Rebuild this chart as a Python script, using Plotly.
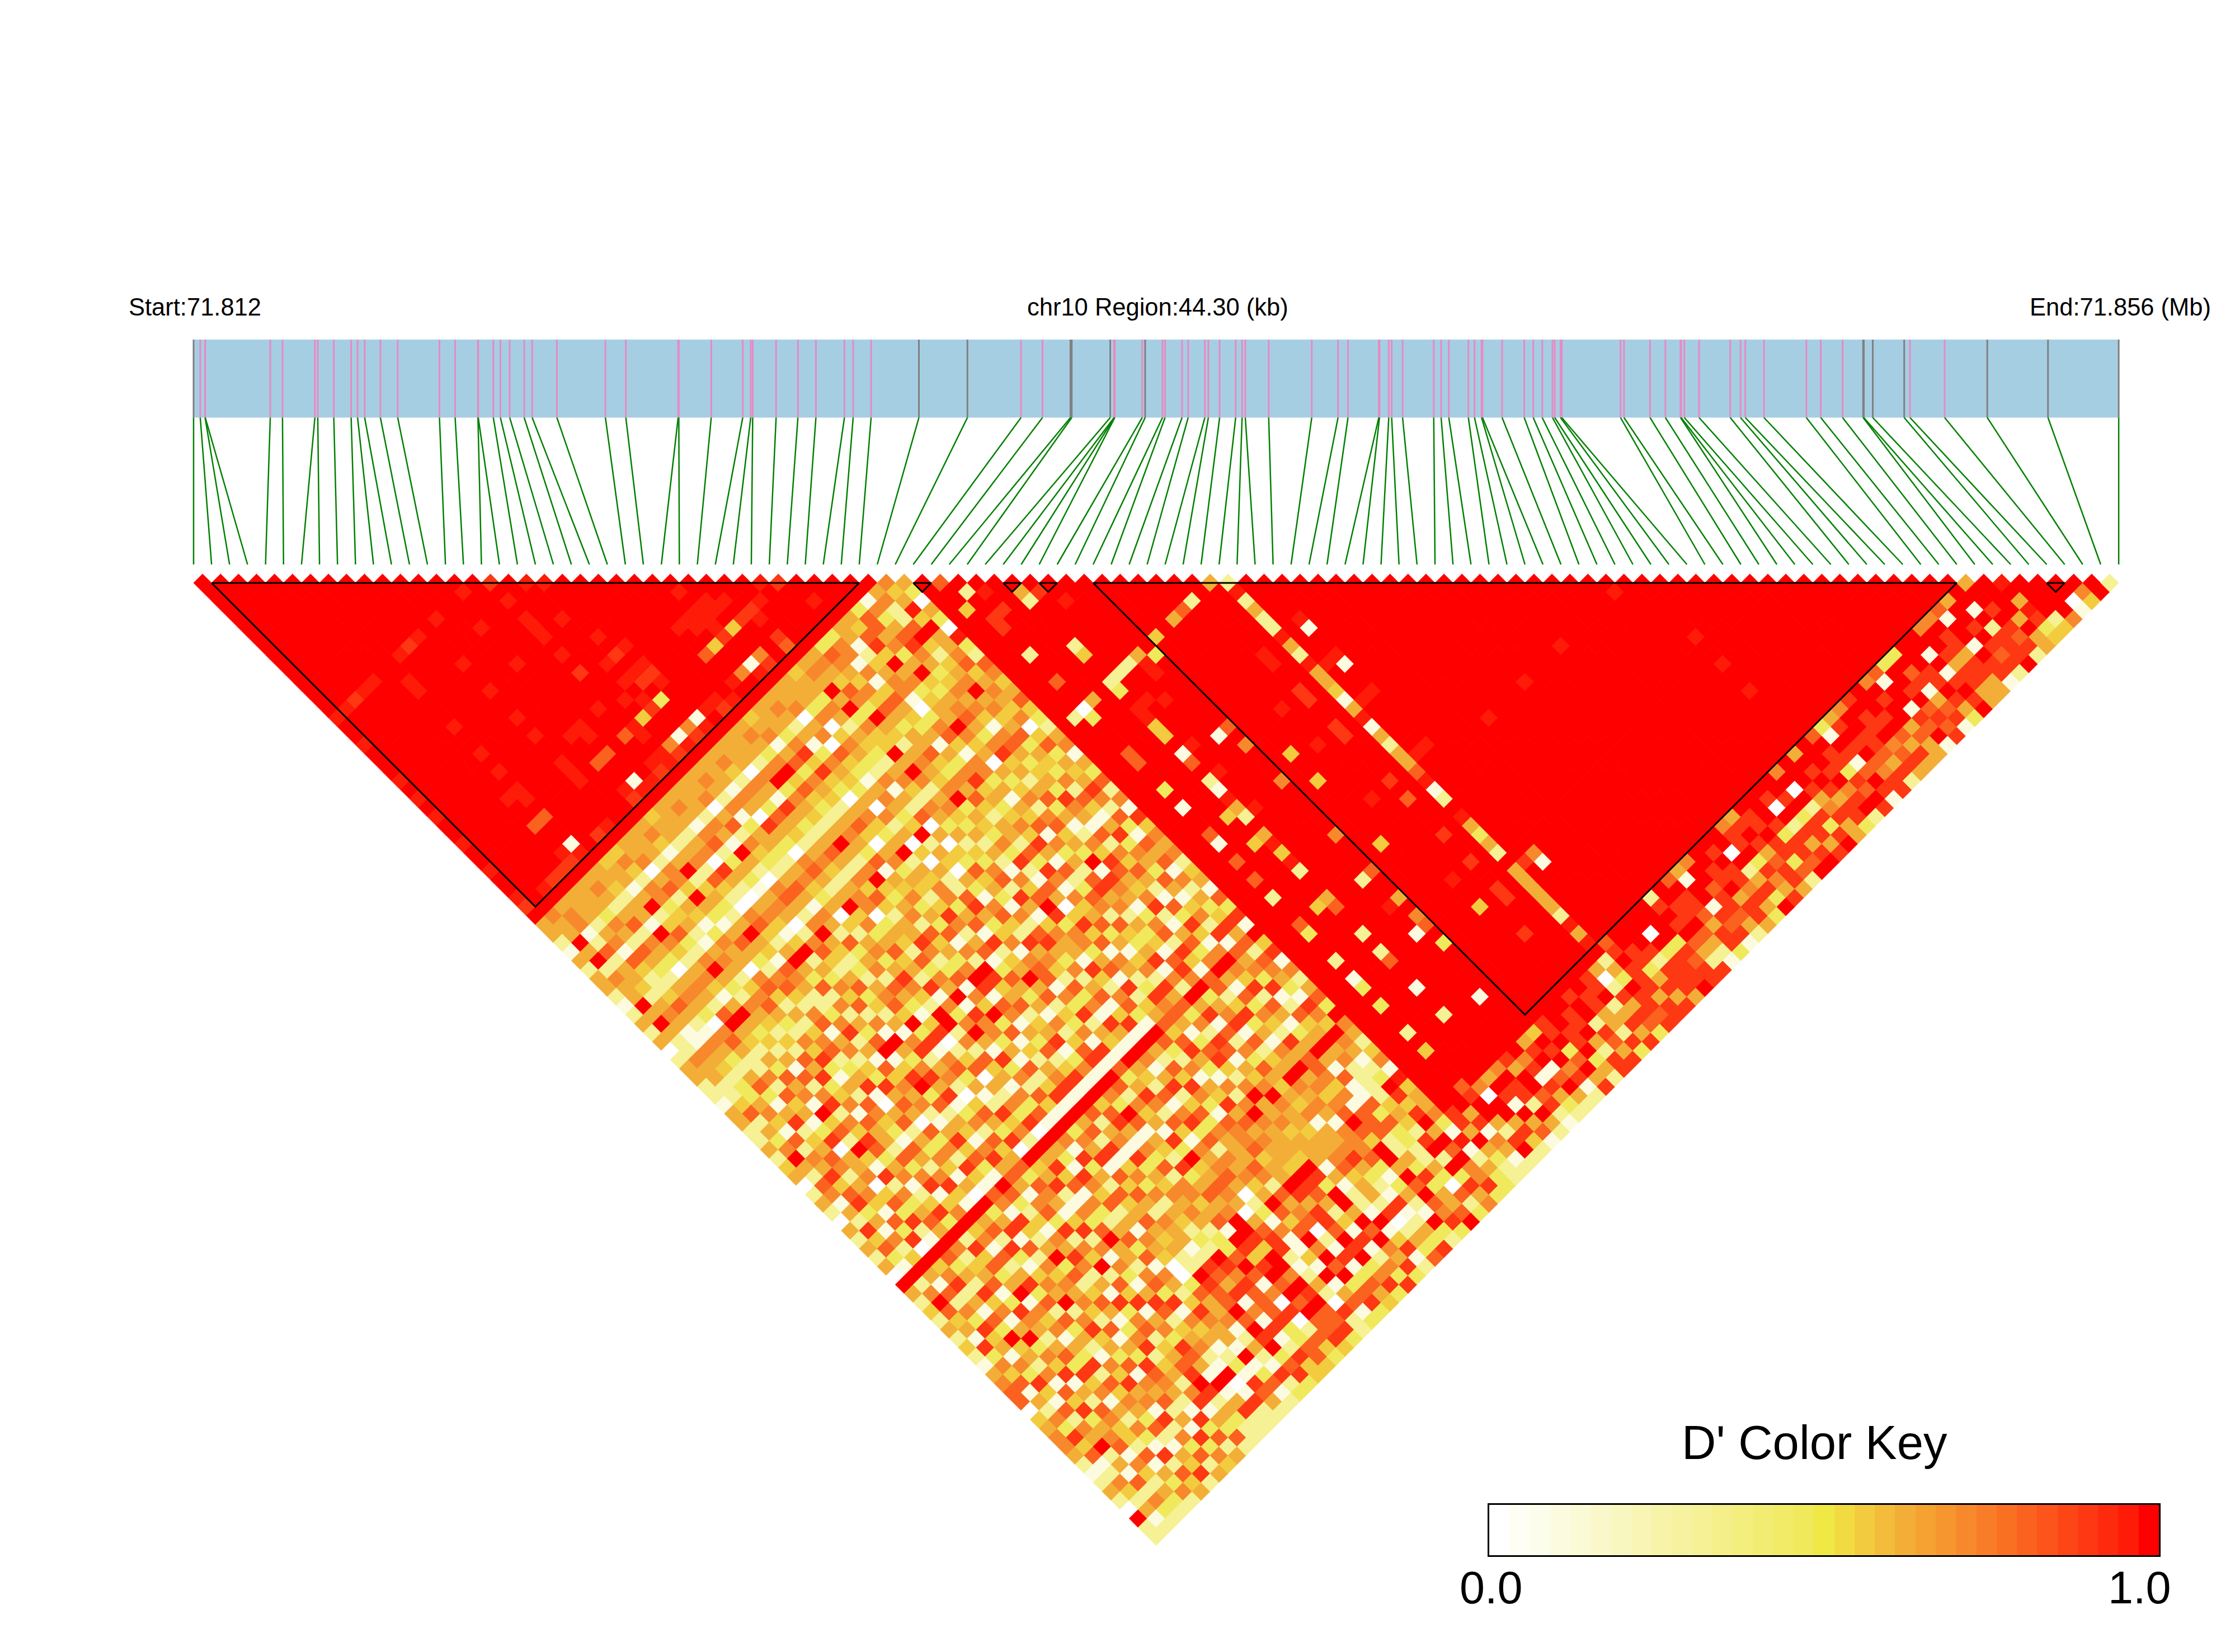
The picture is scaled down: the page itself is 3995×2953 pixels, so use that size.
import plotly.graph_objects as go

# D' levels used in the rows below ('x' is the almost-red step of the key)
LEVELS = {'0': 0.0, '1': 0.094, '2': 0.3125, '3': 0.469, '4': 0.5625, '5': 0.625,
          '6': 0.719, '7': 0.8125, '8': 0.906, 'x': 0.969, '9': 1.0}

KEY_COLORS = ['#FFFFFF', '#FEFEF5', '#FDFDEB', '#FCFBE0', '#FBFAD6', '#FAF8CB', '#F9F7C0', '#F8F5B5',
              '#F7F4AA', '#F6F29F', '#F5F194', '#F4EF89', '#F3EE7E', '#F2EC73', '#F1EB68', '#F0E95C',
              '#EFE845', '#F2DB40', '#F2CC3E', '#F3BC3A', '#F3AE38', '#F5A233', '#F6962F', '#F7892C',
              '#F97D28', '#FA7023', '#FB611F', '#FC541A', '#FC4616', '#FD3812', '#FE2A0D', '#FE1B08',
              '#FF0000']

# SNP positions along the region, kb from the start
SNP_KB = [0.000, 0.154, 0.265, 0.269, 1.765, 2.046, 2.792, 2.858, 3.227, 3.626, 3.774, 3.937, 4.299, 4.698,
          5.658, 6.019, 6.544, 6.551, 6.898, 7.061, 7.275, 7.608, 7.792, 8.361, 9.477, 9.947, 11.151, 11.166,
          11.912, 12.637, 12.821, 12.866, 13.405, 13.907, 14.321, 14.977, 15.178, 15.591, 16.691, 17.807,
          19.041, 19.535, 20.178, 20.208, 21.094, 21.182, 21.190, 21.198, 21.830, 21.897, 22.296, 22.355,
          22.746, 22.887, 23.271, 23.352, 23.611, 23.980, 24.128, 24.202, 24.740, 25.731, 26.336, 26.565,
          27.274, 27.290, 27.503, 27.570, 27.821, 28.538, 28.708, 28.885, 29.335, 29.476, 29.638, 29.660,
          30.111, 30.620, 30.828, 31.034, 31.271, 31.322, 31.455, 31.484, 32.836, 32.916, 33.515, 33.869,
          34.216, 34.231, 34.305, 34.644, 35.361, 35.598, 35.708, 36.137, 37.112, 37.444, 37.946, 38.419,
          38.434, 38.641, 39.364, 39.497, 40.295, 41.276, 42.673, 44.300]
GRAY_SNPS = [0, 38, 39, 42, 43, 44, 49, 99, 100, 101, 102, 105, 106, 107]
REGION_KB = 44.30

# haplotype blocks, first and last SNP
BLOCKS = [(1, 37), (40, 41), (45, 46), (47, 48), (50, 98), (103, 104)]

# one string per SNP i, cells j = i+1 .. 107; spaces break at j = 10, 20, ...
DPRIME_ROWS = [
    "999999999 999999x99x 999x9x9x99 x99x99x895 5215255212 5250255221 5522524502 5205252509 5242524215 6770456652 12520922",
    "99999999 999999x999 9999999999 9999999996 5595926559 5952265522 4725369527 6152847319 2697451836 4715263847 12642512",
    "9999999 9999998999 9999999999 9999999x95 6612725542 5651165423 3564172658 4783516249 5172638451 6384172659 25172632",
    "999999 999999x999 9999999999 9999999895 5525617422 4752165325 7315824576 2564173809 4682517394 5261748356 71642532",
    "99999 999999x999 9999999999 9999999895 5536527532 5653067522 6274513805 5604738219 7352846159 3648152764 42715362",
    "9999 9999999999 9999999999 x99799x895 6525726530 5652795425 3756194729 4182635759 6245713865 2573846152 63182745",
    "999 99999999xx 999x99x9x9 xx97991x95 5425519642 5641595342 5172682648 7356124839 2847359164 6153827465 37215482",
    "99 999999x999 9999999999 9999999994 5515924732 6953265424 2758346175 5273681469 4617258372 7352164856 18263725",
    "9 9999998999 9999999999 9999999894 6426634521 5652467532 6483152764 3175268419 5728314659 2684537165 72518364",
    "999999x999 9999999999 9999999x95 5605725413 6550674252 4672358105 7253641509 3581726465 6427153876 52183725",
    "999999999 x99x99x9x9 9xxx999995 5526649531 5753267426 7156243857 5073628417 6184259372 4751368245 26815372",
    "9999x999 9999999999 9999999995 6415924532 5954176522 3682517465 6215847319 7324165862 5183672457 89825322",
    "9999999 9999999999 x99799x894 5525627420 6742595372 6253791489 3725416857 5167382649 2748156387 51915822",
    "99999x 999x999999 xx97991x95 5525608520 5641492536 4726195368 5813627457 3765148261 6315872456 21901822",
    "9x999 9999999999 9999999x95 6516723531 5650267425 7342516825 6204753809 4582163795 5267381645 12318752",
    "9999 9999999999 x99799x895 5526519520 6752695423 2567493816 7351284629 5847163257 3716524865 51913712",
    "89x 9xxx9x9899 999xx9xx95 5605726432 5751652735 6275314802 4705263809 5318647251 6540037556 12521823",
    "99 9999999999 9x94996895 6526135532 5643504256 3586429926 2745163719 6183527457 5452298779 79893783",
    "x 999x9999x9 x9x8991x95 5516508530 6752594635 7452816369 5183627419 3658174752 6551287581 61812844",
    "x99999x989 x893996895 6426537542 5642566035 4273659186 6351724819 5728146362 5423298687 77833774",
    "9999999x9 x8x9991x95 5506518532 5752647425 5862371649 3714256819 7256183546 5652337971 60802743",
    "99999999 999999x995 5526936542 5952694356 2745369817 6153724819 4785163726 6457198489 79797784",
    "9999999 999999x895 6536947432 5653715463 5371629845 7245813619 6397154283 5756998499 69897783",
    "999999 9999999x94 5615736542 5740563542 4862571375 3516247819 7264518394 5765057882 12520822",
    "99999 x99799x995 5536848430 5643592546 6357182459 5724361817 3586274165 6750231611 41915713",
    "9999 xx94996995 6525136543 5062504052 2785346167 7163825419 5427168372 6564597479 69793783",
    "9x9 xxx8991x95 5605607431 5653492540 5316742856 4273618519 6158247365 5576275670 21813754",
    "99 xx94996895 5536046532 6152705043 7453162785 3625714819 5274863176 6745598588 79893683",
    "9 9x98999994 5536525432 5642653524 3672851465 5184267319 7326154857 5655498752 41812638",
    "9998x98795 6595936449 5962564352 5216479836 6357182457 4785316269 6555498399 59796583",
    "99x999995 6547639542 5654693543 6382175048 4716523867 5137842695 5645551512 21914812",
    "x9999993 7654647535 5743657425 5273861645 7351462857 3628715469 6554556745 52802537",
    "8999993 6616147543 5153684534 6485172376 2743581629 5817263754 5461556853 21812538",
    "99x995 5124566103 6741663515 4716352785 6253417869 3568172459 6565166673 13521932",
    "99995 4784956345 5964505346 2674539186 5136728417 7248351659 5646797499 59797683",
    "9993 7756359435 6753684525 7351264875 4682157369 5173642857 7646177722 53835579",
    "991 6357865346 5641675345 3865172647 5217384169 6482751359 5171173733 22530723",
    "95 6227942456 9564573543 6274158365 3751462817 5638127459 5622224542 89293856",
    "6 45x4955674 5654604735 4586273175 7162534857 2765318649 6512398489 59796683",
    "530530x327 6457432561 5372618465 6245173819 4816257396 52461x4556 31x12533",
    "999999999 9999999999 9999999999 9999999999 9999999999 9999999999 88595322",
    "79949999 9999999299 9999999999 9999999999 9999999999 9999999999 95816512",
    "9299889 9299799039 9977993919 9719797929 9739929139 3992949997 89952892",
    "9x9899 9999999599 9999999999 9999999999 9999999999 9999999999 60995842",
    "99999 9999999999 9999999999 9499499999 9499999999 9999999999 59819571",
    "9529 9992499239 xx44917921 x5295x4x29 9579929279 9199299999 69882952",
    "989 9999999299 x9999x99x9 99x9999999 9999999999 9999999999 85997821",
    "99 x999999299 9x99999999 9999999999 9999999999 9999999999 96818532",
    "9 99999995xx 9999991999 9999999999 99299x9919 9999919999 58917952",
    "9999999939 9999997969 9969999969 9979959679 3999999999 49896812",
    "999999499 9999999999 9999999999 9999999999 9999999999 88937958",
    "99999999 9999999999 9499499999 9499999999 9999999999 99889352",
    "9999599 9999999999 9999999999 9999999999 9999999999 98895288",
    "999799 99999999x9 99x99999x9 9999999x99 4999999999 89928758",
    "99299 9999999999 9999999999 9999999999 9999899999 98855283",
    "9999 9999xx9988 9988999989 7999899899 8899999999 88925858",
    "599 9999999999 9999999999 9999999999 9999999999 50285873",
    "2x 2522x52x55 415x152557 x129x53529 555552x5x9 25398878",
    "9 99999999x9 99x99999x9 9999999999 8999999997 89888588",
    "9999x199x1 99x99999x9 9999999999 6199999999 98835858",
    "999999999 9999999999 9999999999 9999999999 99828885",
    "99999999 9999999999 9999999999 9999999999 90938889",
    "9999999 9999999999 9999999999 9999999999 99938788",
    "999999 9999999999 9999999999 9999999992 89897528",
    "99999 9999999999 x999999999 9999999999 98897521",
    "9999 9999999999 9999999999 9999999997 98875883",
    "999 9999999999 9999999999 9999999995 19918781",
    "99 9999999999 9999999999 9999999996 99788752",
    "9 9999999999 x999999999 9999999999 98895885",
    "9999999999 9999999999 9999999999 89886853",
    "999999999 9999999999 9999999999 90925839",
    "99999999 9999999999 9999999996 88938658",
    "9999999 x999999999 9999999995 89857885",
    "999999 9999999999 9999999999 88988372",
    "99999 9999999999 9999999999 99838879",
    "9999 9999999999 9999999999 80928589",
    "999 9999999999 9999999999 98938858",
    "99 9999999999 9999999996 90928389",
    "9 x999999999 9999999999 99856855",
    "9999999999 9999999995 98985883",
    "999999x99 x99x999999 99896892",
    "99999999 9999999997 98838798",
    "9999999 9999999993 19817981",
    "999999 9999999995 89897688",
    "99999 9999999996 99887582",
    "9999 9999999998 98896785",
    "999 9999999999 99897585",
    "99 9999999996 98995755",
    "9 9999999997 19918791",
    "9999999993 99897878",
    "999999993 97815781",
    "99999999 99889853",
    "9999999 91918989",
    "999996 99858855",
    "99996 98858855",
    "9997 19919881",
    "995 99898782",
    "99 91928889",
    "5 99898782",
    "99995955",
    "x95x834",
    "999924",
    "99996",
    "9901",
    "964",
    "99",
    "2",
]

# page pixels of the drawing
W, H = 3995, 2953
X0, DX = 346.0, 32.16
Y0, DY = 1042.0, 16.08
BAR_TOP, BAR_BOT, LINK_BOT = 607.0, 746.5, 1009.0
MARKER = 25.4


def depth(py):
    return 1 + (py - Y0) / DY


n = len(SNP_KB)
bad = [(i, len(r.replace(' ', '')), n - 1 - i) for i, r in enumerate(DPRIME_ROWS) if len(r.replace(' ', '')) != n - 1 - i]
if bad:
    raise SystemExit(f'row length mismatch {bad}')

cell_x, cell_y, cell_v = [], [], []
for i, row in enumerate(DPRIME_ROWS):
    for k, ch in enumerate(row.replace(' ', '')):
        j = i + 1 + k
        cell_x.append((i + j) / 2)
        cell_y.append(j - i)
        cell_v.append(LEVELS[ch])

scale = [[k / (len(KEY_COLORS) - 1), c] for k, c in enumerate(KEY_COLORS)]
snp_x = [kb / REGION_KB * (n - 1) for kb in SNP_KB]

fig = go.Figure()

# SNP ticks in the bar, grouped by colour
for color, idx in (('#E78AC3', [i for i in range(n) if i not in GRAY_SNPS]), ('#808080', GRAY_SNPS)):
    xs, ys = [], []
    for i in idx:
        xs += [snp_x[i], snp_x[i], None]
        ys += [depth(BAR_TOP), depth(BAR_BOT), None]
    fig.add_trace(go.Scatter(x=xs, y=ys, mode='lines', line=dict(color=color, width=3), hoverinfo='skip'))

# connectors from the bar to the matrix
xs, ys = [], []
for i in range(n):
    xs += [snp_x[i], i, None]
    ys += [depth(BAR_BOT), depth(LINK_BOT), None]
fig.add_trace(go.Scatter(x=xs, y=ys, mode='lines', line=dict(color='#008000', width=2.5), hoverinfo='skip'))

fig.add_trace(go.Scatter(x=cell_x, y=cell_y, mode='markers',
                         marker=dict(symbol='diamond', size=MARKER, color=cell_v, colorscale=scale,
                                     cmin=0, cmax=1, line=dict(width=0)),
                         hoverinfo='skip'))

# block outlines
xs, ys = [], []
for a, b in BLOCKS:
    xs += [a, b, (a + b) / 2, a, None]
    ys += [1, 1, b - a + 1, 1, None]
fig.add_trace(go.Scatter(x=xs, y=ys, mode='lines', line=dict(color='black', width=3), hoverinfo='skip'))

# colour key
steps = list(range(len(KEY_COLORS)))
fig.add_trace(go.Heatmap(z=[[s / (len(KEY_COLORS) - 1) for s in steps]], x=steps, y=[0], xaxis='x2', yaxis='y2',
                         colorscale=scale, zmin=0, zmax=1, showscale=False, hoverinfo='skip'))

FONT = 'Liberation Sans'
notes = [
    dict(text='Start:71.812', x=228, y=549, xanchor='left', size=43.5),
    dict(text='chr10 Region:44.30 (kb)', x=2069, y=549, xanchor='center', size=43.5),
    dict(text='End:71.856 (Mb)', x=3626, y=549, xanchor='left', size=43.5),
    dict(text="D' Color Key", x=3243, y=2578, xanchor='center', size=85),
    dict(text='0.0', x=2665, y=2838, xanchor='center', size=81),
    dict(text='1.0', x=3824, y=2838, xanchor='center', size=81),
]
annotations = [dict(text=a['text'], x=a['x'] / W, y=1 - a['y'] / H, xref='paper', yref='paper',
                    xanchor=a['xanchor'], yanchor='middle', showarrow=False,
                    font=dict(family=FONT, size=a['size'], color='black')) for a in notes]

fig.update_layout(
    width=W, height=H, margin=dict(l=0, r=0, t=0, b=0), autosize=False,
    paper_bgcolor='white', plot_bgcolor='white', showlegend=False, hovermode=False,
    xaxis=dict(range=[(0 - X0) / DX, (W - X0) / DX], domain=[0, 1], visible=False, fixedrange=True),
    yaxis=dict(range=[depth(H), depth(0)], domain=[0, 1], visible=False, fixedrange=True),
    xaxis2=dict(range=[-0.5, len(KEY_COLORS) - 0.5], domain=[2662 / W, 3859 / W], anchor='y2',
                showticklabels=False, ticks='', showgrid=False, zeroline=False,
                showline=True, mirror=True, linecolor='black', linewidth=3),
    yaxis2=dict(range=[-0.5, 0.5], domain=[(H - 2780) / H, (H - 2690) / H], anchor='x2',
                showticklabels=False, ticks='', showgrid=False, zeroline=False,
                showline=True, mirror=True, linecolor='black', linewidth=3),
    annotations=annotations,
    shapes=[dict(type='rect', xref='x', yref='y', layer='below', x0=0, x1=n - 1,
                 y0=depth(BAR_TOP), y1=depth(BAR_BOT), fillcolor='#A6CEE3', line=dict(width=0))],
)

fig.write_html('out.html', config={'displayModeBar': False}, post_script="document.body.style.margin='0';")
